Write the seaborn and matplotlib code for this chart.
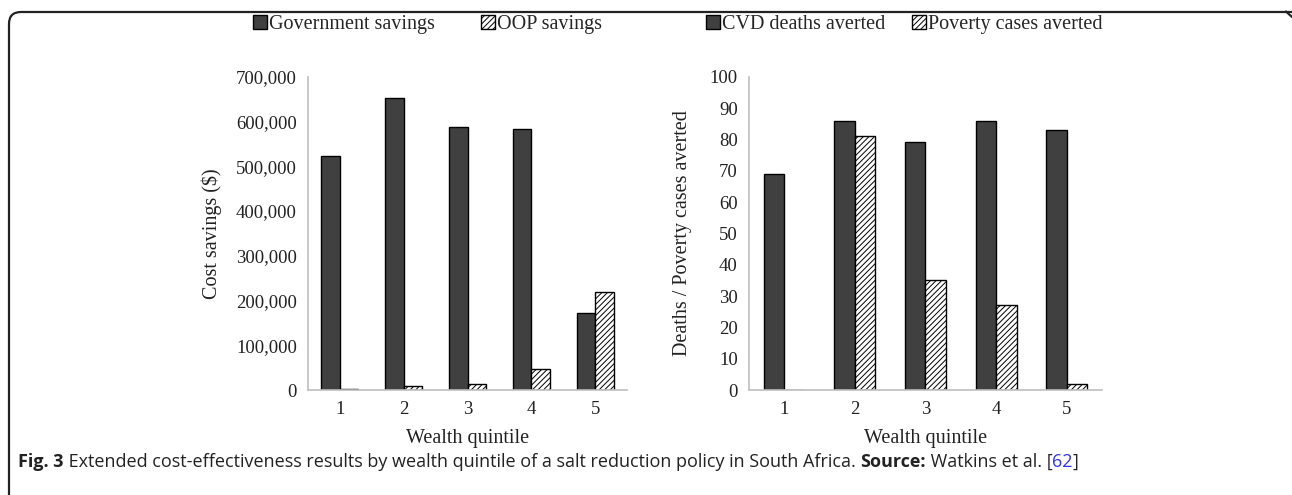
import numpy as np
import pandas as pd
import matplotlib
matplotlib.use('Agg')
import matplotlib.pyplot as plt
import seaborn as sns
from matplotlib.patches import FancyBboxPatch
from matplotlib.lines import Line2D
from matplotlib.transforms import IdentityTransform

# values
quintiles = ['1', '2', '3', '4', '5']
gov_savings = [522000, 652000, 588000, 582000, 171000]
oop_savings = [3000, 10000, 13000, 46000, 220000]
cvd_deaths = [69, 86, 79, 86, 83]
poverty_cases = [0, 81, 35, 27, 2]

sns.set_theme(style='white')
plt.rcParams['font.family'] = ['Liberation Serif', 'DejaVu Serif']
plt.rcParams['hatch.linewidth'] = 0.7

fig = plt.figure(figsize=(12.92, 4.95), dpi=100)
ax1 = fig.add_axes([0.2384, 0.2121, 0.2469, 0.633])
ax2 = fig.add_axes([0.5797, 0.2121, 0.2732, 0.633])


def draw(ax, a, b, names, ymax, step, fmt, ylabel, legend_x, colspace, ypad):
    df = pd.DataFrame({'quintile': quintiles * 2,
                       'value': a + b,
                       'series': [names[0]] * 5 + [names[1]] * 5})
    sns.barplot(data=df, x='quintile', y='value', hue='series',
                palette=['#404040', 'white'], width=0.58, gap=0,
                edgecolor='black', linewidth=1.0, ax=ax, legend=False)
    for p in ax.containers[1]:
        p.set_hatch('//////')
    ax.set_ylim(0, ymax)
    ax.set_yticks(np.arange(0, ymax + step / 2, step))
    ax.set_yticklabels([fmt(v) for v in ax.get_yticks()])
    ax.set_xlim(-0.5, 4.5)
    sns.despine(ax=ax)
    for s in ['left', 'bottom']:
        ax.spines[s].set_color('#bfbfbf')
        ax.spines[s].set_linewidth(1.2)
    ax.tick_params(length=0, labelsize=13.5, colors='#222222', pad=8)
    ax.set_xlabel('Wealth quintile', fontsize=14.5, color='#222222', labelpad=8)
    ax.set_ylabel(ylabel, fontsize=14.5, color='#222222', labelpad=ypad)
    handles = [ax.containers[0][0], ax.containers[1][0]]
    fig.legend(handles, names, loc='center', bbox_to_anchor=(legend_x, 0.95),
               ncol=2, frameon=False, fontsize=14.5, handlelength=0.7,
               handleheight=0.7, handletextpad=0.1, columnspacing=colspace,
               borderaxespad=0)


draw(ax1, gov_savings, oop_savings, ['Government savings', 'OOP savings'],
     700000, 100000, lambda v: f'{int(v):,}', 'Cost savings ($)', 0.331, 2.3, 10)
draw(ax2, cvd_deaths, poverty_cases, ['CVD deaths averted', 'Poverty cases averted'],
     100, 10, lambda v: f'{int(v)}', 'Deaths / Poverty cases averted', 0.700, 1.3, 13)

# rounded frame around the figure panel (right and bottom edges fall off the image)
frame = FancyBboxPatch((9, -60), 1330, 543, boxstyle='round,pad=0,rounding_size=12',
                       transform=IdentityTransform(), facecolor='none',
                       edgecolor='#222222', linewidth=1.6)
fig.patches.append(frame)
fig.lines.append(Line2D([1286 / 1292, 1.0], [1 - 11.5 / 495, 1 - 17 / 495],
                        transform=fig.transFigure, color='#222222', linewidth=1.6))

# caption with mixed styles
parts = [('Fig. 3', 'bold', '#222222'),
         (' Extended cost-effectiveness results by wealth quintile of a salt reduction policy in South Africa. ', 'normal', '#222222'),
         ('Source:', 'bold', '#222222'),
         (' Watkins et al. [', 'normal', '#222222'),
         ('62', 'normal', '#3333ee'),
         (']', 'normal', '#222222')]
fig.canvas.draw()
renderer = fig.canvas.get_renderer()
x = 18
for txt, weight, col in parts:
    t = fig.text(x / 1292, 1 - 462 / 495, txt, fontsize=13, fontweight=weight,
                 color=col, family=['Open Sans', 'DejaVu Sans'], va='center', ha='left')
    x += t.get_window_extent(renderer).width

fig.savefig('out.png', dpi=100)
